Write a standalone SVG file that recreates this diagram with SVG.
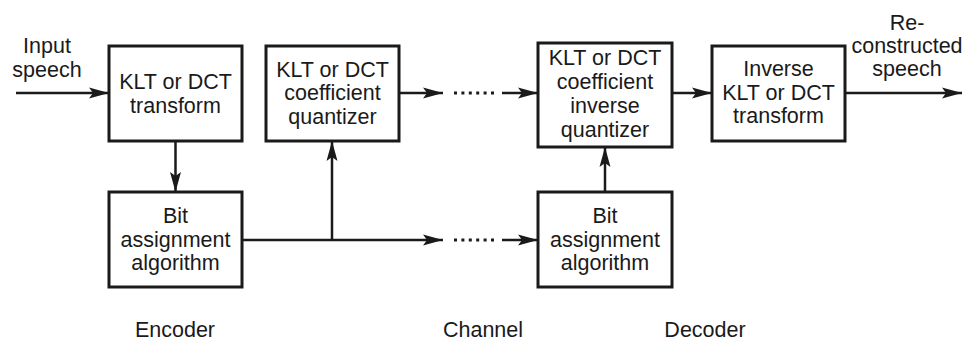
<svg xmlns="http://www.w3.org/2000/svg" width="976" height="343" viewBox="0 0 976 343">
<style>
.box{fill:#fff;stroke:#1a1a1a;stroke-width:3}
.ln{fill:none;stroke:#1a1a1a;stroke-width:2.5}
.dots{fill:none;stroke:#1a1a1a;stroke-width:3;stroke-dasharray:3 4.4}
text{font-family:"Liberation Sans",Arial,sans-serif;font-size:21.5px;fill:#1a1a1a;text-anchor:middle}
</style>
<defs>
<marker id="ah" markerWidth="20" markerHeight="12" refX="20" refY="6" orient="auto" markerUnits="userSpaceOnUse">
<path d="M0,0.5 L20,6 L0,11.5 L4,6 Z" fill="#1a1a1a"/>
</marker>
</defs>
<rect width="976" height="343" fill="#fff"/>
<g id="connectors">
<line class="ln" x1="16" y1="93" x2="109" y2="93" marker-end="url(#ah)"/>
<line class="ln" x1="175.5" y1="141" x2="175.5" y2="192" marker-end="url(#ah)"/>
<line class="ln" x1="242" y1="240" x2="443" y2="240" marker-end="url(#ah)"/>
<line class="ln" x1="332" y1="240" x2="332" y2="141" marker-end="url(#ah)"/>
<line class="dots" x1="454" y1="240" x2="494" y2="240"/>
<line class="ln" x1="502" y1="240" x2="538" y2="240" marker-end="url(#ah)"/>
<line class="ln" x1="399" y1="93" x2="443" y2="93" marker-end="url(#ah)"/>
<line class="dots" x1="454" y1="93" x2="494" y2="93"/>
<line class="ln" x1="502" y1="93" x2="538" y2="93" marker-end="url(#ah)"/>
<line class="ln" x1="605" y1="192" x2="605" y2="147" marker-end="url(#ah)"/>
<line class="ln" x1="672" y1="93" x2="712" y2="93" marker-end="url(#ah)"/>
<line class="ln" x1="845" y1="93" x2="962" y2="93" marker-end="url(#ah)"/>
</g>
<g id="input-label">
<text x="47" y="53">Input</text>
<text x="47" y="77">speech</text>
</g>
<g id="transform">
<rect class="box" x="109" y="46" width="133" height="95"/>
<text x="175.5" y="89">KLT or DCT</text>
<text x="175.5" y="112.5">transform</text>
</g>
<g id="quantizer">
<rect class="box" x="266" y="46" width="133" height="95"/>
<text x="332.5" y="76.5">KLT or DCT</text>
<text x="332.5" y="100">coefficient</text>
<text x="332.5" y="123.5">quantizer</text>
</g>
<g id="inv-quantizer">
<rect class="box" x="538" y="43" width="134" height="104"/>
<text x="605" y="65">KLT or DCT</text>
<text x="605" y="89">coefficient</text>
<text x="605" y="113">inverse</text>
<text x="605" y="137">quantizer</text>
</g>
<g id="inv-transform">
<rect class="box" x="712" y="46" width="133" height="95"/>
<text x="778.5" y="76">Inverse</text>
<text x="778.5" y="99.5">KLT or DCT</text>
<text x="778.5" y="123">transform</text>
</g>
<g id="output-label">
<text x="907" y="30">Re-</text>
<text x="907" y="53">constructed</text>
<text x="907" y="76">speech</text>
</g>
<g id="bit-enc">
<rect class="box" x="109" y="192" width="133" height="95"/>
<text x="175.5" y="223">Bit</text>
<text x="175.5" y="246.5">assignment</text>
<text x="175.5" y="270">algorithm</text>
</g>
<g id="bit-dec">
<rect class="box" x="538" y="192" width="134" height="95"/>
<text x="605" y="223">Bit</text>
<text x="605" y="246.5">assignment</text>
<text x="605" y="270">algorithm</text>
</g>
<g id="section-labels">
<text x="175" y="337">Encoder</text>
<text x="483" y="337">Channel</text>
<text x="705" y="337">Decoder</text>
</g>
</svg>
